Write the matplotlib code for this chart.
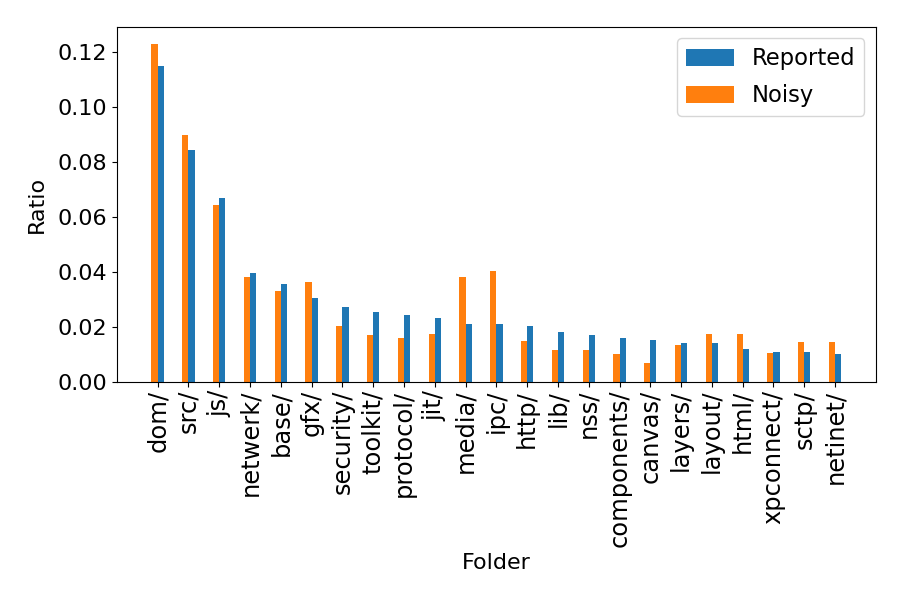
import matplotlib
matplotlib.use("Agg")
import matplotlib.pyplot as plt
import numpy as np

folders = ["dom/", "src/", "js/", "netwerk/", "base/", "gfx/", "security/", "toolkit/",
           "protocol/", "jit/", "media/", "ipc/", "http/", "lib/", "nss/", "components/",
           "canvas/", "layers/", "layout/", "html/", "xpconnect/", "sctp/", "netinet/"]
reported = [0.1148, 0.0843, 0.0669, 0.0397, 0.0357, 0.0306, 0.0273, 0.0255,
            0.0244, 0.0233, 0.0212, 0.0212, 0.0204, 0.0183, 0.0172, 0.0161,
            0.0153, 0.0142, 0.0142, 0.0120, 0.0109, 0.0109, 0.0102]
noisy = [0.1229, 0.0897, 0.0644, 0.0382, 0.0331, 0.0364, 0.0204, 0.0172,
         0.0161, 0.0175, 0.0382, 0.0404, 0.0150, 0.0117, 0.0117, 0.0103,
         0.0070, 0.0135, 0.0175, 0.0175, 0.0106, 0.0146, 0.0146]

plt.rcParams['font.size'] = 16

fig, ax = plt.subplots(figsize=(9, 6), dpi=100)
x = np.arange(len(folders))
width = 0.2

# barras lado a lado: reportado à direita do tick, ruidoso à esquerda
ax.bar(x, reported, width, align='edge', color='#1f77b4', label='Reported')
ax.bar(x, noisy, -width, align='edge', color='#ff7f0e', label='Noisy')

ax.set_xticks(x)
ax.set_xticklabels(folders, rotation=90, fontsize=17.4)
ax.tick_params(axis='x', pad=2)
ax.set_xlabel('Folder')
ax.set_ylabel('Ratio', labelpad=8)
ax.legend(loc='upper right', fontsize=16.3, handlelength=2.1, handleheight=0.77,
          labelspacing=0.6)

fig.subplots_adjust(left=0.13, right=0.973, top=0.955, bottom=0.363)
plt.savefig('out.png', dpi=100)
